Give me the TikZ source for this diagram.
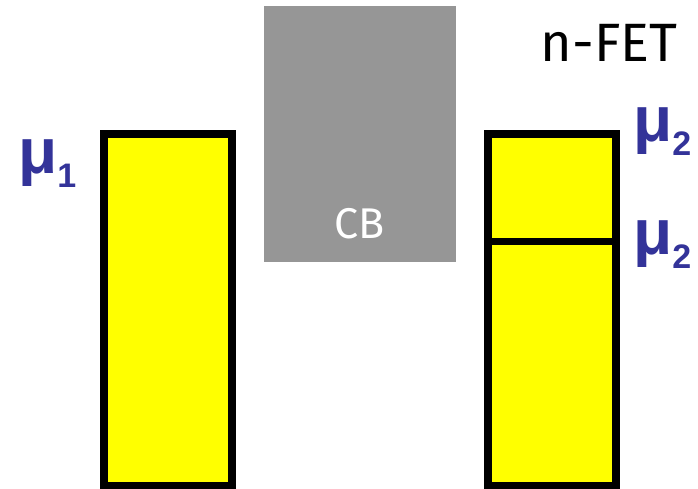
\documentclass[tikz,border=0pt]{standalone}
\usepackage{fontspec}
\setmainfont{Fira Sans}
\newfontfamily\mufont{Liberation Sans}
\definecolor{mublue}{RGB}{51,51,153}
\definecolor{cbgray}{RGB}{150,150,150}
\definecolor{bandyellow}{RGB}{255,255,0}
\begin{document}
\begin{tikzpicture}[x=1pt,y=-1pt]
			\useasboundingbox (0,0) rectangle (698,489);
			\fill[cbgray] (264,6) rectangle (456,262);
			\filldraw[fill=bandyellow,line width=8pt] (104,134) rectangle (232,485.5);
			\filldraw[fill=bandyellow,line width=8pt] (488,134) rectangle (616,485.5);
			\draw[line width=7pt] (488,241) -- (616,241);
			\node[anchor=base,text=white,inner sep=0pt] (cb) at (360,238) {\fontsize{43}{43}\selectfont CB};
			\node[anchor=base,inner sep=0pt] (fet) at (609,62) {\fontsize{54}{54}\selectfont n-FET};
			\node[anchor=base west,text=mublue,inner sep=0pt] (mua) at (18,174) {\mufont\bfseries\fontsize{64}{64}\selectfont μ\raisebox{-14pt}{\fontsize{34}{34}\selectfont 1}};
			\node[anchor=base west,text=mublue,inner sep=0pt] (mub) at (633,142) {\mufont\bfseries\fontsize{64}{64}\selectfont μ\raisebox{-14pt}{\fontsize{34}{34}\selectfont 2}};
			\node[anchor=base west,text=mublue,inner sep=0pt] (muc) at (633,254) {\mufont\bfseries\fontsize{64}{64}\selectfont μ\raisebox{-14pt}{\fontsize{34}{34}\selectfont 2}};
		\end{tikzpicture}
\end{document}
